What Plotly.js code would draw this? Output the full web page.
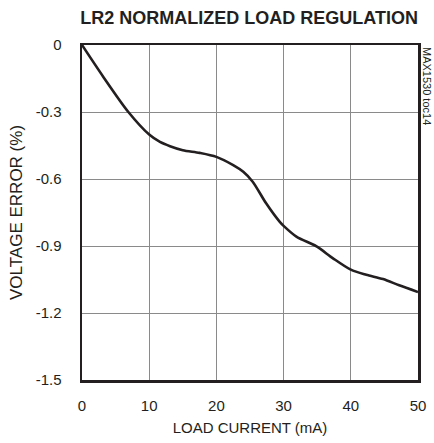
<!DOCTYPE html>
<html><head><meta charset="utf-8">
<script src="https://cdn.plot.ly/plotly-3.0.1.min.js"></script>
<style>html,body{margin:0;padding:0;background:#fff;}#chart{width:434px;height:443px;}</style>
</head><body><div id="chart"></div>
<script>
const loadCurrent = [0, 3.2, 6.9, 10, 11.6, 13.1, 15, 17.5, 20, 22.5, 24, 25.4, 27.4, 29.4, 30, 31.9, 34.9, 37.3, 40, 42.3, 44.8, 47.2, 50];
const voltageError = [0, -0.144, -0.30, -0.401, -0.434, -0.453, -0.471, -0.483, -0.501, -0.538, -0.568, -0.612, -0.709, -0.791, -0.810, -0.858, -0.902, -0.954, -1.006, -1.029, -1.048, -1.076, -1.106];
const xTicks = [0, 10, 20, 30, 40, 50];
const yTicks = [0, -0.3, -0.6, -0.9, -1.2, -1.5];
const yTickText = ['0', '-0.3', '-0.6', '-0.9', '-1.2', '-1.5'];

const font = '"Liberation Sans", Arial, sans-serif';
const trace = {
  x: loadCurrent, y: voltageError, type: 'scatter', mode: 'lines',
  line: {color: '#231f20', width: 2.6, shape: 'spline', smoothing: 0.8},
  hoverinfo: 'skip'
};
const layout = {
  width: 434, height: 443,
  margin: {l: 82, r: 16, t: 44.5, b: 62.5},
  paper_bgcolor: '#fff', plot_bgcolor: '#fff',
  showlegend: false,
  font: {family: font, color: '#231f20', size: 15},
  title: {text: '<b>LR2 NORMALIZED LOAD REGULATION</b>', x: 0.574, xanchor: 'center', y: 0.96, yanchor: 'middle', font: {family: font, size: 18, color: '#231f20'}},
  xaxis: {
    range: [0, 50], tickvals: xTicks, ticktext: xTicks.map(String), ticks: '',
    showgrid: true, gridcolor: '#8a8a8a', gridwidth: 1, zeroline: false,
    showline: true, linecolor: '#231f20', linewidth: 2.5, mirror: true,
    tickfont: {size: 15, family: font}, ticklabelstandoff: 10,
    title: {text: 'LOAD CURRENT (mA)', font: {size: 15, family: font}, standoff: 10}
  },
  yaxis: {
    range: [-1.5, 0], tickvals: yTicks, ticktext: yTickText, ticks: '',
    showgrid: true, gridcolor: '#8a8a8a', gridwidth: 1, zeroline: false,
    showline: true, linecolor: '#231f20', linewidth: 2.5, mirror: true,
    tickfont: {size: 15, family: font}, ticklabelstandoff: 15,
    title: {text: 'VOLTAGE ERROR (%)', font: {size: 17, family: font}, standoff: 9}
  },
  annotations: [{
    text: 'MAX1530 toc14', xref: 'paper', yref: 'paper', x: 1, y: 1, xanchor: 'left', yanchor: 'top',
    xshift: 1, textangle: 90, showarrow: false, font: {size: 11, family: font, color: '#231f20'}
  }]
};
Plotly.newPlot('chart', [trace], layout, {displayModeBar: false, staticPlot: true});
</script></body></html>
